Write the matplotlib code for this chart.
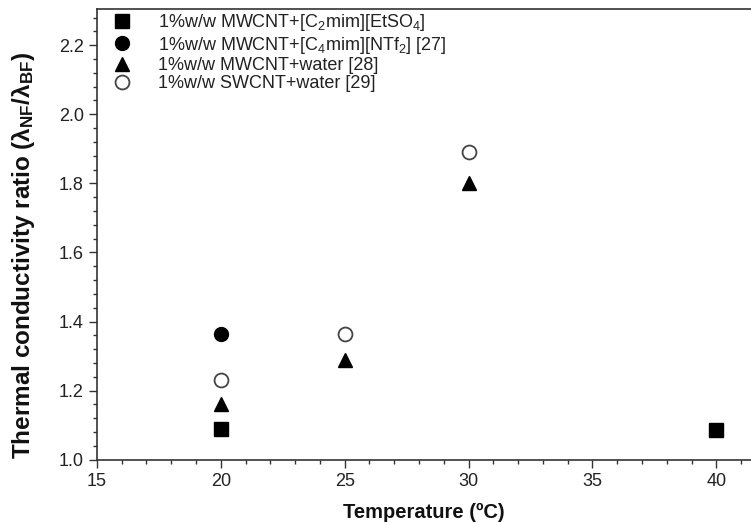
import numpy as np
import matplotlib
matplotlib.use("Agg")
import matplotlib.pyplot as plt
from matplotlib.ticker import MultipleLocator, FormatStrFormatter

plt.rcParams['font.family'] = ['Liberation Sans', 'DejaVu Sans']
plt.rcParams['mathtext.fontset'] = 'custom'
plt.rcParams['mathtext.rm'] = 'Liberation Sans'
plt.rcParams['mathtext.it'] = 'Liberation Sans:italic'
plt.rcParams['mathtext.bf'] = 'Liberation Sans:bold'

# data
emim_T = [20, 40]
emim_k = [1.09, 1.085]
bmim_T = [20]
bmim_k = [1.365]
mw_water_T = [20, 25, 30]
mw_water_k = [1.16, 1.29, 1.80]
sw_water_T = [20, 25, 30]
sw_water_k = [1.23, 1.365, 1.89]

labels = [r'1%w/w MWCNT+[C$_2$mim][EtSO$_4$]',
          r'1%w/w MWCNT+[C$_4$mim][NTf$_2$] [27]',
          '1%w/w MWCNT+water [28]',
          '1%w/w SWCNT+water [29]']

fig = plt.figure(figsize=(7.51, 5.23), dpi=100)
ax = fig.add_axes([0.129, 0.121, 0.871, 0.862])

ax.plot(emim_T, emim_k, 's', color='black', markersize=9.5, label=labels[0], linestyle='none')
ax.plot(bmim_T, bmim_k, 'o', color='black', markersize=10, label=labels[1], linestyle='none')
ax.plot(mw_water_T, mw_water_k, '^', color='black', markersize=10, label=labels[2], linestyle='none')
ax.plot(sw_water_T, sw_water_k, 'o', markerfacecolor='white', markeredgecolor='#444444',
        markeredgewidth=1.3, markersize=10, label=labels[3], linestyle='none')

ax.set_xlim(15, 41.4)
ax.set_ylim(1.0, 2.305)
ax.xaxis.set_major_locator(MultipleLocator(5))
ax.xaxis.set_minor_locator(MultipleLocator(1))
ax.yaxis.set_major_locator(MultipleLocator(0.2))
ax.yaxis.set_minor_locator(MultipleLocator(0.04))
ax.yaxis.set_major_formatter(FormatStrFormatter('%.1f'))

ax.spines['right'].set_visible(False)
for s in ['left', 'bottom', 'top']:
    ax.spines[s].set_color('#333333')
    ax.spines[s].set_linewidth(1.2)
ax.tick_params(which='major', direction='out', length=6, width=1, colors='#333333',
               labelsize=13, labelcolor='#222222')
ax.tick_params(which='minor', direction='out', length=3, width=1, colors='#333333')
ax.tick_params(axis='x', which='both', top=False)

ax.set_xlabel('Temperature (ºC)', fontsize=14.5, fontweight='bold', labelpad=9,
              color='#111111')
ax.set_ylabel(r'Thermal conductivity ratio ($\mathbf{\lambda_{NF}/\lambda_{BF}}$)',
              fontsize=17.5, fontweight='bold', color='#111111')
ax.yaxis.set_label_coords(-0.092, 0.454)

ax.legend(loc='upper left', bbox_to_anchor=(0.021, 0.992), frameon=False, fontsize=13,
          borderpad=0, handlelength=1.3, handletextpad=1.3, labelspacing=0.07,
          borderaxespad=0, labelcolor='#222222')

fig.savefig('out.png', dpi=100)
